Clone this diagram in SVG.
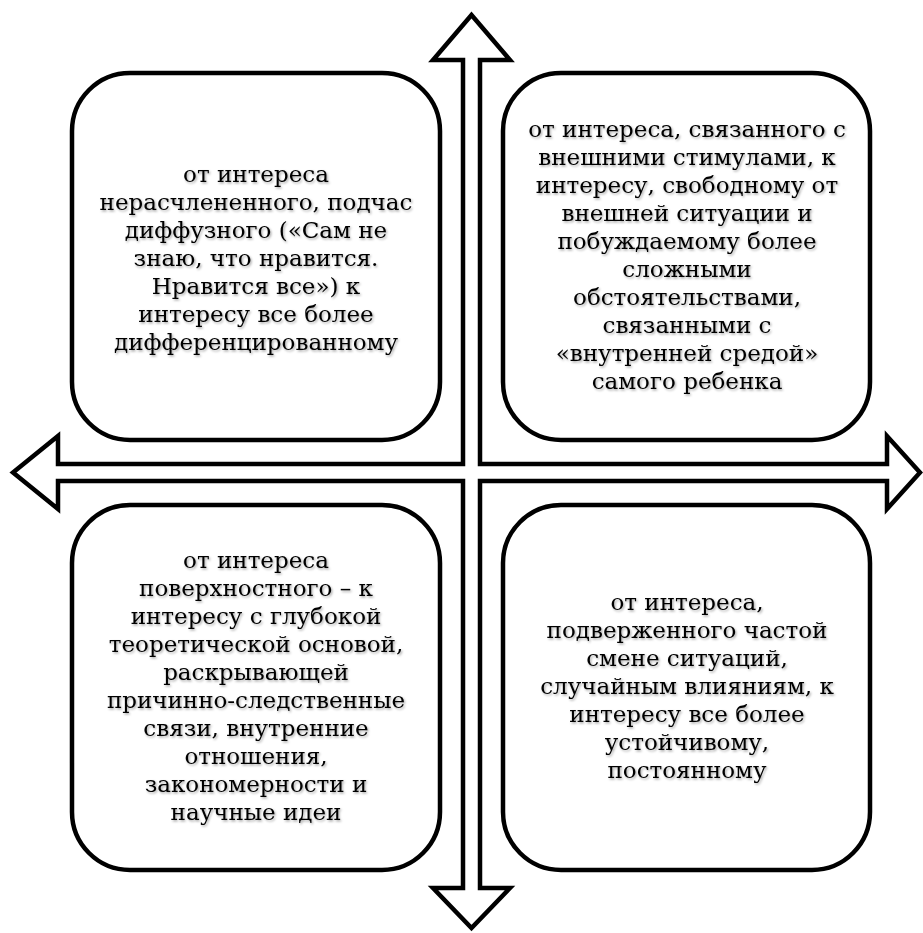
<svg xmlns="http://www.w3.org/2000/svg" width="923" height="933" viewBox="0 0 923 933">
<defs>
<filter id="sh" x="-10%" y="-10%" width="120%" height="130%">
<feDropShadow dx="1.2" dy="1.5" stdDeviation="0.9" flood-color="#000" flood-opacity="0.35"/>
</filter>
<style>
.box{fill:#fff;stroke:#000;stroke-width:4.5}
.arrow{fill:#fff;stroke:#000;stroke-width:4.5;stroke-linejoin:miter}
.t{font-family:"DejaVu Serif","Liberation Serif",serif;font-size:23px;fill:#000;text-anchor:middle;filter:url(#sh)}
</style>
</defs>
<rect width="923" height="933" fill="#fff"/>
<g id="connectors">
<path class="arrow" d="M471.5,15 L510,60 L480,60 L480,464 L887,464 L887,436 L920,472.5 L887,509 L887,481 L480,481 L480,888 L510,888 L471.5,928 L433,888 L463,888 L463,481 L58,481 L58,509 L13,472.5 L58,436 L58,464 L463,464 L463,60 L433,60 Z"/>
</g>
<g id="node-tl">
<rect class="box" x="72" y="73" width="368" height="367" rx="58" ry="58"/>
<text class="t" x="256"><tspan x="256" y="182">от интереса</tspan><tspan x="256" y="210">нерасчлененного, подчас</tspan><tspan x="256" y="238">диффузного («Сам не</tspan><tspan x="256" y="266">знаю, что нравится.</tspan><tspan x="256" y="294">Нравится все») к</tspan><tspan x="256" y="322">интересу все более</tspan><tspan x="256" y="350">дифференцированному</tspan></text>
</g>
<g id="node-tr">
<rect class="box" x="503" y="73" width="367" height="367" rx="58" ry="58"/>
<text class="t" x="687"><tspan x="687" y="137">от интереса, связанного с</tspan><tspan x="687" y="165">внешними стимулами, к</tspan><tspan x="687" y="193">интересу, свободному от</tspan><tspan x="687" y="221">внешней ситуации и</tspan><tspan x="687" y="249">побуждаемому более</tspan><tspan x="687" y="277">сложными</tspan><tspan x="687" y="305">обстоятельствами,</tspan><tspan x="687" y="333">связанными с</tspan><tspan x="687" y="361">«внутренней средой»</tspan><tspan x="687" y="389">самого ребенка</tspan></text>
</g>
<g id="node-bl">
<rect class="box" x="72" y="505" width="368" height="365" rx="58" ry="58"/>
<text class="t" x="256"><tspan x="256" y="568">от интереса</tspan><tspan x="256" y="596">поверхностного – к</tspan><tspan x="256" y="624">интересу с глубокой</tspan><tspan x="256" y="652">теоретической основой,</tspan><tspan x="256" y="680">раскрывающей</tspan><tspan x="256" y="708">причинно-следственные</tspan><tspan x="256" y="736">связи, внутренние</tspan><tspan x="256" y="764">отношения,</tspan><tspan x="256" y="792">закономерности и</tspan><tspan x="256" y="820">научные идеи</tspan></text>
</g>
<g id="node-br">
<rect class="box" x="503" y="505" width="367" height="365" rx="58" ry="58"/>
<text class="t" x="687"><tspan x="687" y="610">от интереса,</tspan><tspan x="687" y="638">подверженного частой</tspan><tspan x="687" y="666">смене ситуаций,</tspan><tspan x="687" y="694">случайным влияниям, к</tspan><tspan x="687" y="722">интересу все более</tspan><tspan x="687" y="750">устойчивому,</tspan><tspan x="687" y="778">постоянному</tspan></text>
</g>
</svg>
